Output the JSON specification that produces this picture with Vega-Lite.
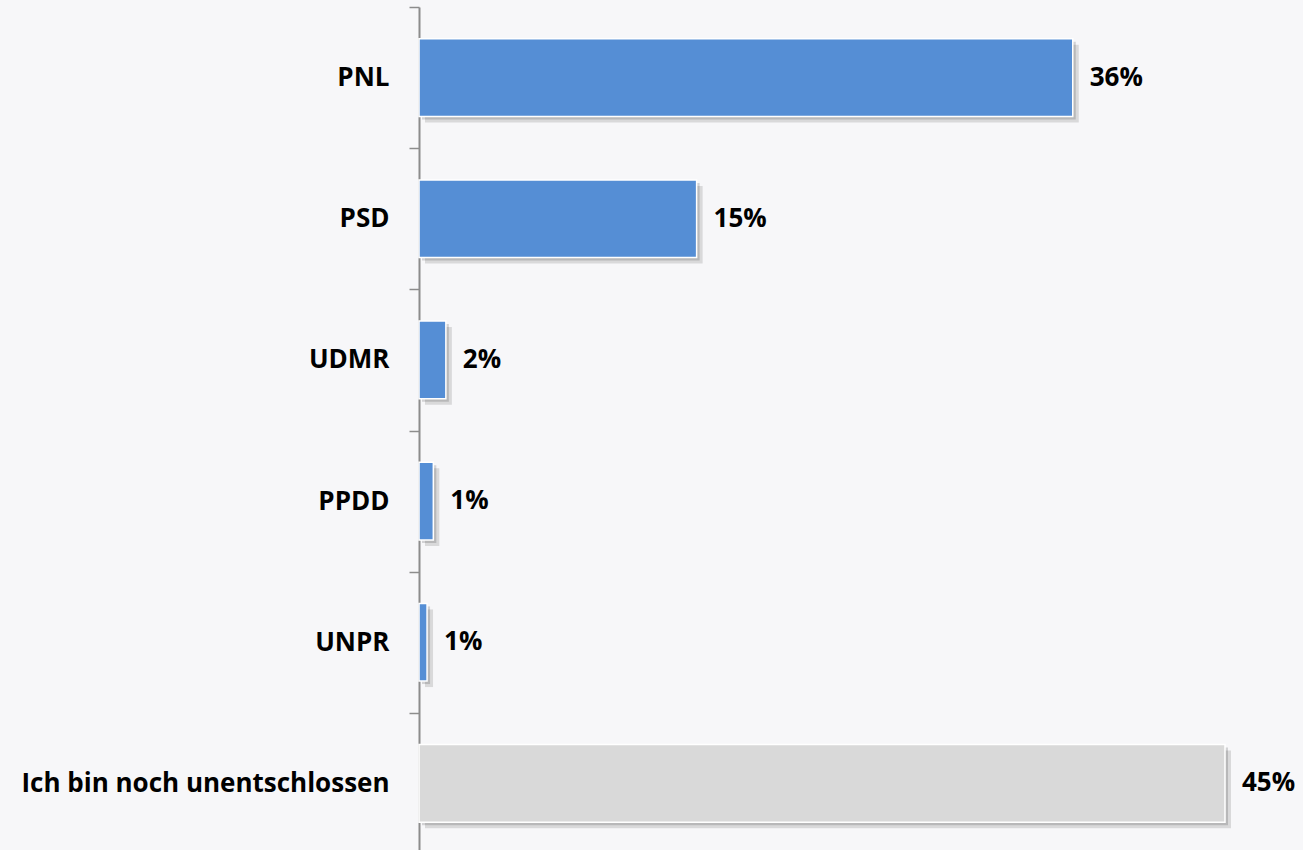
{
  "$schema": "https://vega.github.io/schema/vega-lite/v6.json",
  "autosize": {"type": "none"},
  "padding": {"left": 419, "top": 7, "right": 78, "bottom": 0},
  "width": 806,
  "height": 847,
  "background": "#f7f7f9",
  "config": {"view": {"stroke": null}, "font": "Open Sans"},
  "data": {
    "values": [
      {"party": "PNL", "value": 36.5, "label": "36%", "group": "party"},
      {"party": "PSD", "value": 15.5, "label": "15%", "group": "party"},
      {"party": "UDMR", "value": 1.5, "label": "2%", "group": "party"},
      {"party": "PPDD", "value": 0.8, "label": "1%", "group": "party"},
      {"party": "UNPR", "value": 0.45, "label": "1%", "group": "party"},
      {"party": "Ich bin noch unentschlossen", "value": 45, "label": "45%", "group": "undecided"}
    ]
  },
  "encoding": {
    "y": {
      "field": "party",
      "type": "nominal",
      "sort": null,
      "scale": {"paddingInner": 0, "paddingOuter": 0},
      "axis": {
        "title": null,
        "tickBand": "extent",
        "tickSize": 10,
        "tickColor": "#8c8c8c",
        "tickWidth": 1.5,
        "domainColor": "#8c8c8c",
        "domainWidth": 2,
        "labelPadding": 20,
        "labelLimit": 0,
        "labelFont": "Open Sans",
        "labelFontSize": 26,
        "labelFontWeight": "bold",
        "labelColor": "#000000"
      }
    },
    "x": {
      "field": "value",
      "type": "quantitative",
      "scale": {"domain": [0, 45], "nice": false, "zero": true},
      "axis": null
    }
  },
  "layer": [
    {
      "mark": {"type": "bar", "color": "#000000", "opacity": 0.12, "xOffset": 6, "yOffset": 6, "height": {"band": 0.55}}
    },
    {
      "mark": {"type": "bar", "color": "#000000", "opacity": 0.15, "xOffset": 3, "yOffset": 3, "height": {"band": 0.55}}
    },
    {
      "mark": {"type": "bar", "stroke": "#ffffff", "strokeWidth": 1.5, "height": {"band": 0.55}},
      "encoding": {
        "color": {
          "field": "group",
          "type": "nominal",
          "scale": {"domain": ["party", "undecided"], "range": ["#558ed5", "#d9d9d9"]},
          "legend": null
        }
      }
    },
    {
      "mark": {"type": "text", "align": "left", "baseline": "middle", "dx": 17, "font": "Open Sans", "fontSize": 26, "fontWeight": "bold", "color": "#000000"},
      "encoding": {"text": {"field": "label"}}
    }
  ]
}
